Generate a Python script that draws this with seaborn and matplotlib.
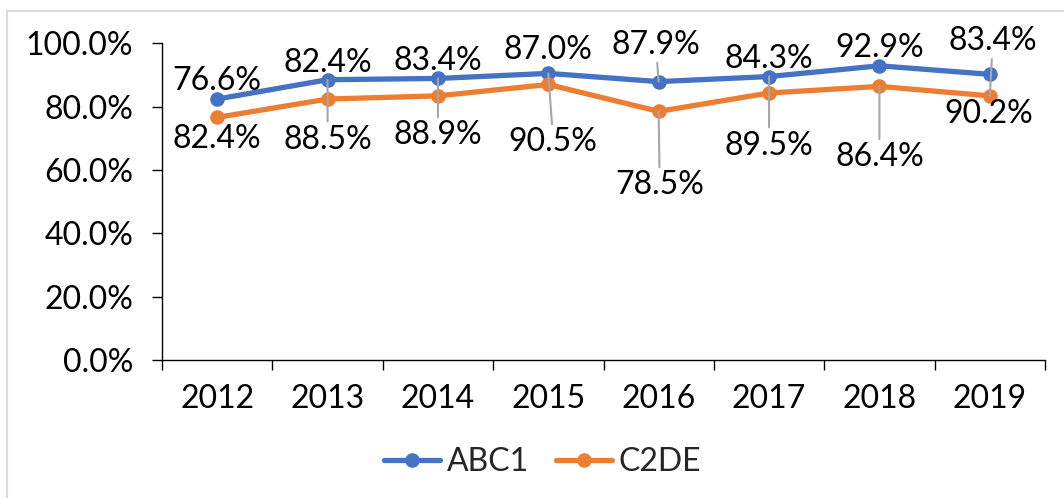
import numpy as np
import matplotlib
matplotlib.use("Agg")
import matplotlib.pyplot as plt
from matplotlib.patches import Rectangle
from matplotlib.ticker import FuncFormatter
import pandas as pd
import seaborn as sns

# Datos
anios = ["2012", "2013", "2014", "2015", "2016", "2017", "2018", "2019"]
abc1 = [82.4, 88.5, 88.9, 90.5, 87.9, 89.5, 92.9, 90.2]
c2de = [76.6, 82.4, 83.4, 87.0, 78.5, 84.3, 86.4, 83.4]

colores = {"ABC1": "#4472C4", "C2DE": "#ED7D31"}

# Posición de las etiquetas respecto al punto (px, y hacia abajo) y línea guía
desp_abc1 = [(0, 37), (0, 57), (0, 54), (5, 66), (-3, -40), (0, 66), (0, -21), (-1, 37)]
guia_abc1 = [False, True, True, True, True, True, False, False]
desp_c2de = [(0, -39), (0, -39), (0, -38), (0, -37), (1, 71), (0, -37), (0, 68), (3, -58)]
guia_c2de = [False, False, False, False, True, False, True, True]

df = pd.DataFrame({
    "pos": list(range(len(anios))) * 2,
    "valor": abc1 + c2de,
    "serie": ["ABC1"] * len(anios) + ["C2DE"] * len(anios),
})

sns.set_style("white")
plt.rcParams["font.family"] = ["Lato", "DejaVu Sans"]
tam = 23

fig = plt.figure(figsize=(10.64, 4.98), dpi=100)
ax = fig.add_axes([162 / 1064, 1 - 360 / 498, 883 / 1064, (360 - 43.3) / 498])

sns.lineplot(data=df, x="pos", y="valor", hue="serie", palette=colores,
             marker="o", markersize=10.5, markeredgewidth=0, linewidth=3.8, ax=ax)

# Etiquetas de datos
px = 0.72


def etiquetar(valores, desp, guia):
    for i, (v, (dx, dy), g) in enumerate(zip(valores, desp, guia)):
        flecha = dict(arrowstyle="-", color="#a6a6a6", lw=1.5, shrinkA=0, shrinkB=0) if g else None
        ax.annotate(f"{v:.1f}%", xy=(i, v), xytext=(dx * px, -(dy + 3) * px),
                    textcoords="offset points", ha="center", va="center",
                    fontsize=tam, color="black", arrowprops=flecha)


etiquetar(abc1, desp_abc1, guia_abc1)
etiquetar(c2de, desp_c2de, guia_c2de)

# Ejes
ax.set_xlim(-0.5, len(anios) - 0.5)
ax.set_ylim(0, 100)
ax.set_xticks(range(len(anios)))
ax.set_xticklabels(anios)
ax.set_xticks(np.arange(-0.5, len(anios)), minor=True)
ax.set_yticks(range(0, 101, 20))
ax.yaxis.set_major_formatter(FuncFormatter(lambda v, p: f"{v:.1f}%"))
ax.tick_params(axis="x", which="major", length=0, pad=17, labelsize=tam, labelcolor="black")
ax.tick_params(axis="x", which="minor", bottom=True, length=7.2, width=1, direction="out", color="black")
ax.tick_params(axis="y", left=True, length=7.2, width=1, direction="out", pad=13.5,
               labelsize=tam, color="black", labelcolor="black")
ax.set_xlabel("")
ax.set_ylabel("")

for lado in ["top", "right"]:
    ax.spines[lado].set_visible(False)
for lado in ["left", "bottom"]:
    ax.spines[lado].set_color("black")
    ax.spines[lado].set_linewidth(1)

# Leyenda
handles, labels = ax.get_legend_handles_labels()
ax.legend(handles, labels, loc="center", bbox_to_anchor=(542.5 / 1064, 1 - 462 / 498),
          bbox_transform=fig.transFigure, ncol=2, frameon=False, fontsize=tam,
          handlelength=1.75, handletextpad=0.2, columnspacing=0.85)

# Borde del gráfico
fig.patches.append(Rectangle((7 / 1064, -0.1), 2, 1.1 - 11 / 498, transform=fig.transFigure,
                             fill=False, ec="#d9d9d9", lw=1.5))

plt.savefig("out.png", dpi=100)
